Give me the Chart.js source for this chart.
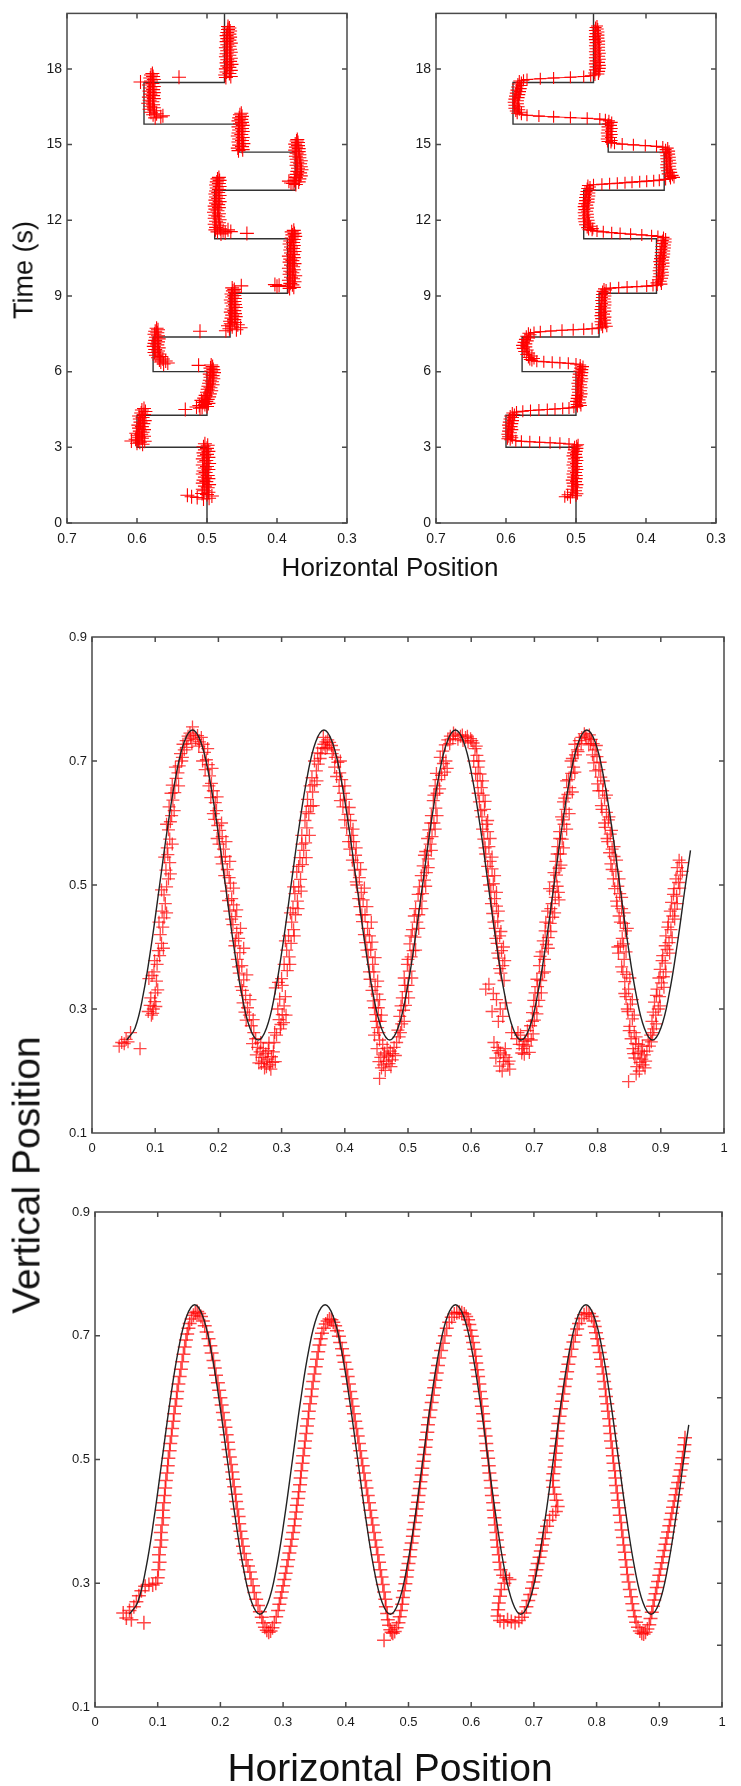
<!DOCTYPE html>
<html><head><meta charset="utf-8">
<script src="https://cdn.jsdelivr.net/npm/chart.js@4/dist/chart.umd.min.js"></script>
<style>
html,body{margin:0;padding:0;background:#fff}
body{width:741px;height:1786px;position:relative;overflow:hidden;font-family:'Liberation Sans',Arial,sans-serif;color:#111}
canvas{position:absolute}
.t{position:absolute;white-space:nowrap;line-height:1;transform:translate(-50%,-50%)}
.r{transform:translate(-50%,-50%) rotate(-90deg)}
</style></head><body>
<canvas id="ca" width="370" height="560" style="left:0;top:0"></canvas>
<canvas id="cb" width="371" height="560" style="left:370px;top:0"></canvas>
<canvas id="cc" width="741" height="580" style="left:0;top:600px"></canvas>
<canvas id="cd" width="741" height="580" style="left:0;top:1180px"></canvas>
<div class="t r" style="left:24px;top:270px;font-size:27px">Time (s)</div>
<div class="t" style="left:390px;top:567px;font-size:26px">Horizontal Position</div>
<div class="t r" style="left:26px;top:1175px;font-size:39px">Vertical Position</div>
<div class="t" style="left:390px;top:1767px;font-size:39px">Horizontal Position</div>
<script>
// ---------- tick values ----------
const topXTicks = [0.7, 0.6, 0.5, 0.4, 0.3];
const topYTicks = [0, 3, 6, 9, 12, 15, 18];
const botXTicks = [0, 0.1, 0.2, 0.3, 0.4, 0.5, 0.6, 0.7, 0.8, 0.9, 1];
const botYTicks = [0.1, 0.3, 0.5, 0.7, 0.9];
const botYMinor = [0.2, 0.3, 0.4, 0.5, 0.6, 0.7, 0.8];

// ---------- target step path (top panels) ----------
const stepStart = [0, 3.0, 4.27, 6.0, 7.37, 9.11, 11.27, 13.19, 14.70, 15.81, 17.46];
const stepEnd   = [3.0, 4.27, 6.0, 7.37, 9.11, 11.27, 13.19, 14.70, 15.81, 17.46, 20.2];
const stepLevel = [0.5, 0.6, 0.5, 0.577, 0.467, 0.385, 0.489, 0.374, 0.454, 0.590, 0.475];

// ---------- panel (a): [time, horizontal position] ----------
const trackA = [
[0.95,.505],[0.98,.497],[1.01,.514],[1.04,.522],[1.07,.493],[1.10,.528],[1.13,.500],[1.17,.507],[1.22,.498],[1.28,.504],[1.34,.506],[1.40,.499],[1.46,.503],[1.52,.497],[1.58,.506],[1.64,.501],[1.70,.505],[1.76,.498],[1.82,.503],[1.88,.499],[1.94,.506],[2.00,.502],[2.06,.505],[2.12,.498],[2.18,.503],[2.24,.500],[2.30,.506],[2.36,.497],[2.42,.504],[2.48,.501],[2.54,.506],[2.60,.498],[2.66,.504],[2.72,.500],[2.78,.505],[2.84,.498],[2.90,.503],[2.96,.500],[3.02,.505],[3.08,.499],[3.14,.503],
[3.12,.592],[3.16,.600],[3.20,.596],[3.24,.589],[3.25,.608],[3.28,.598],[3.32,.602],[3.36,.593],[3.40,.597],[3.44,.590],[3.48,.599],[3.52,.594],[3.56,.601],[3.60,.592],[3.64,.596],[3.70,.590],[3.76,.597],[3.82,.593],[3.88,.598],[3.94,.591],[4.00,.595],[4.06,.589],[4.12,.596],[4.18,.592],[4.24,.597],[4.30,.590],[4.36,.594],[4.42,.588],[4.48,.593],[4.54,.590],
[4.50,.531],[4.55,.510],[4.60,.515],
[4.58,.507],[4.62,.500],[4.66,.511],[4.70,.503],[4.74,.498],[4.78,.506],[4.82,.501],[4.86,.508],[4.90,.499],[4.95,.504],[5.00,.497],[5.06,.502],[5.12,.496],[5.18,.500],[5.24,.494],[5.30,.499],[5.36,.495],[5.42,.498],[5.48,.492],[5.54,.497],[5.60,.493],[5.66,.496],[5.72,.491],[5.78,.495],[5.84,.492],[5.90,.496],[5.96,.490],[6.02,.494],[6.08,.491],[6.14,.495],[6.20,.492],[6.26,.494],[6.25,.512],
[6.30,.562],[6.34,.556],[6.38,.566],[6.42,.559],[6.46,.568],[6.50,.563],[6.55,.570],[6.60,.566],[6.65,.573],[6.70,.568],[6.76,.575],[6.82,.570],[6.88,.574],[6.94,.569],[7.00,.576],[7.06,.571],[7.12,.575],[7.18,.570],[7.24,.574],[7.30,.569],[7.36,.573],[7.42,.570],[7.48,.575],[7.54,.571],[7.60,.574],[7.66,.570],[7.72,.572],[7.60,.510],
[7.62,.473],[7.66,.458],[7.70,.468],[7.74,.452],[7.78,.464],[7.82,.470],[7.86,.456],[7.90,.466],[7.95,.460],[8.00,.467],[8.06,.461],[8.12,.465],[8.18,.459],[8.24,.464],[8.30,.460],[8.36,.466],[8.42,.461],[8.48,.465],[8.54,.459],[8.60,.463],[8.66,.460],[8.72,.465],[8.78,.461],[8.84,.466],[8.90,.460],[8.96,.464],[9.02,.461],[9.08,.465],[9.14,.460],[9.20,.463],[9.26,.461],[9.32,.464],[9.40,.451],
[9.38,.400],[9.42,.397],[9.45,.403],
[9.30,.382],[9.34,.376],[9.38,.384],[9.44,.378],[9.50,.381],[9.56,.375],[9.62,.383],[9.68,.377],[9.74,.380],[9.80,.374],[9.86,.382],[9.92,.378],[9.98,.381],[10.04,.376],[10.10,.383],[10.16,.377],[10.22,.380],[10.28,.375],[10.34,.382],[10.40,.378],[10.46,.381],[10.52,.376],[10.58,.383],[10.64,.377],[10.70,.380],[10.76,.375],[10.82,.381],[10.88,.377],[10.94,.380],[11.00,.376],[11.06,.382],[11.12,.377],[11.18,.381],[11.24,.376],[11.30,.379],[11.36,.374],[11.42,.378],[11.48,.375],[11.54,.379],[11.60,.376],
[11.48,.443],[11.55,.466],[11.62,.470],
[11.46,.480],[11.50,.474],[11.54,.485],[11.58,.477],[11.62,.488],[11.66,.481],[11.72,.487],[11.78,.482],[11.84,.489],[11.90,.483],[11.96,.487],[12.02,.482],[12.08,.489],[12.14,.484],[12.20,.488],[12.26,.483],[12.32,.490],[12.38,.485],[12.44,.488],[12.50,.483],[12.56,.489],[12.62,.484],[12.68,.487],[12.74,.482],[12.80,.488],[12.86,.484],[12.92,.487],[12.98,.482],[13.04,.488],[13.10,.484],[13.16,.487],[13.22,.483],[13.28,.486],[13.34,.482],[13.40,.487],[13.46,.483],[13.52,.486],[13.58,.482],[13.64,.485],[13.70,.483],
[13.48,.380],[13.55,.383],
[13.42,.373],[13.46,.377],[13.52,.369],[13.58,.375],[13.64,.368],[13.70,.373],[13.76,.366],[13.82,.372],[13.88,.367],[13.94,.371],[14.00,.365],[14.06,.370],[14.12,.366],[14.18,.372],[14.24,.367],[14.30,.371],[14.36,.366],[14.42,.372],[14.48,.368],[14.54,.373],[14.60,.368],[14.66,.372],[14.72,.369],[14.78,.374],[14.84,.369],[14.90,.373],[14.96,.370],[15.02,.374],[15.08,.370],[15.14,.372],[15.20,.371],
[14.76,.455],[14.80,.449],[14.86,.456],[14.92,.450],[14.98,.454],[15.04,.448],[15.10,.455],[15.16,.450],[15.22,.454],[15.28,.449],[15.34,.456],[15.40,.451],[15.46,.455],[15.52,.449],[15.58,.454],[15.64,.450],[15.70,.455],[15.76,.449],[15.82,.453],[15.88,.450],[15.94,.455],[16.00,.451],[16.06,.454],[16.12,.450],[16.18,.453],[16.24,.451],
[16.06,.574],[16.10,.566],[16.14,.563],[16.18,.577],[16.22,.572],[16.28,.580],[16.34,.575],[16.40,.582],[16.46,.576],[16.52,.581],[16.58,.577],[16.64,.584],[16.70,.578],[16.76,.582],[16.82,.576],[16.88,.583],[16.94,.577],[17.00,.581],[17.06,.576],[17.12,.582],[17.18,.577],[17.24,.581],[17.30,.576],[17.36,.583],[17.42,.578],[17.48,.595],[17.52,.580],[17.58,.576],[17.64,.581],[17.70,.577],[17.76,.580],[17.82,.578],[17.67,.540],
[17.66,.473],[17.70,.466],[17.76,.474],[17.82,.468],[17.88,.472],[17.94,.466],[18.00,.473],[18.06,.468],[18.12,.471],[18.18,.465],[18.24,.472],[18.30,.467],[18.36,.471],[18.42,.466],[18.48,.473],[18.54,.468],[18.60,.472],[18.66,.466],[18.72,.471],[18.78,.467],[18.84,.473],[18.90,.468],[18.96,.471],[19.02,.466],[19.08,.472],[19.14,.468],[19.20,.471],[19.26,.467],[19.32,.472],[19.38,.468],[19.44,.471],[19.50,.467],[19.56,.470],[19.62,.468],[19.68,.470]
];

// ---------- panel (b): [time, horizontal position], in time order ----------
const trackB = [
[1.00,.508],[1.04,.516],[1.08,.500],[1.12,.512],[1.16,.498],[1.22,.505],[1.28,.500],[1.34,.506],[1.40,.499],[1.46,.504],[1.52,.498],[1.58,.505],[1.64,.500],[1.70,.506],[1.76,.499],[1.82,.504],[1.88,.499],[1.94,.505],[2.00,.500],[2.06,.504],[2.12,.498],[2.18,.503],[2.24,.499],[2.30,.505],[2.36,.500],[2.42,.504],[2.48,.498],[2.54,.503],[2.60,.499],[2.66,.505],[2.72,.500],[2.78,.504],[2.84,.499],[2.90,.503],[2.96,.498],[3.02,.502],[3.06,.499],
[3.10,.497],[3.13,.510],[3.16,.523],[3.18,.537],[3.20,.552],[3.22,.566],[3.24,.578],[3.26,.586],
[3.30,.594],[3.34,.598],[3.38,.591],[3.42,.597],[3.46,.592],[3.52,.598],[3.58,.593],[3.64,.597],[3.70,.591],[3.76,.596],[3.82,.592],[3.88,.597],[3.94,.591],[4.00,.596],[4.06,.590],[4.12,.595],[4.18,.590],[4.24,.594],[4.30,.588],[4.36,.591],[4.40,.585],
[4.43,.576],[4.46,.565],[4.48,.553],[4.50,.541],[4.52,.530],[4.54,.519],[4.56,.510],[4.59,.503],
[4.62,.498],[4.66,.493],[4.70,.499],[4.76,.494],[4.82,.500],[4.88,.495],[4.94,.499],[5.00,.493],[5.06,.498],[5.12,.492],[5.18,.497],[5.24,.493],[5.30,.498],[5.36,.492],[5.42,.497],[5.48,.493],[5.54,.498],[5.60,.492],[5.66,.496],[5.72,.491],[5.78,.497],[5.84,.492],[5.90,.496],[5.96,.491],[6.02,.495],[6.08,.491],[6.14,.494],[6.20,.490],[6.26,.494],
[6.30,.500],[6.33,.511],[6.35,.523],[6.37,.534],[6.39,.546],[6.41,.556],[6.44,.563],
[6.48,.566],[6.52,.560],[6.56,.568],[6.62,.563],[6.68,.571],[6.74,.567],[6.80,.574],[6.86,.569],[6.92,.576],[6.98,.571],[7.04,.577],[7.10,.571],[7.16,.575],[7.22,.569],[7.28,.573],[7.34,.567],[7.40,.571],[7.46,.565],[7.52,.568],
[7.55,.560],[7.58,.551],[7.61,.536],[7.64,.520],[7.66,.504],[7.68,.489],[7.70,.477],[7.73,.468],
[7.76,.462],[7.80,.456],[7.86,.464],[7.92,.458],[7.98,.465],[8.04,.459],[8.10,.464],[8.16,.458],[8.22,.465],[8.28,.460],[8.34,.464],[8.40,.458],[8.46,.465],[8.52,.459],[8.58,.464],[8.64,.458],[8.70,.463],[8.76,.458],[8.82,.464],[8.88,.459],[8.94,.463],[9.00,.458],[9.06,.463],[9.12,.459],[9.18,.462],[9.24,.457],[9.28,.460],
[9.31,.451],[9.33,.439],[9.35,.427],[9.37,.413],[9.39,.399],[9.41,.390],
[9.43,.384],[9.47,.378],[9.52,.385],[9.58,.379],[9.64,.383],[9.70,.377],[9.76,.382],[9.82,.376],[9.88,.381],[9.94,.376],[10.00,.382],[10.06,.377],[10.12,.381],[10.18,.375],[10.24,.380],[10.30,.375],[10.36,.381],[10.42,.376],[10.48,.380],[10.54,.375],[10.60,.379],[10.66,.374],[10.72,.379],[10.78,.374],[10.84,.378],[10.90,.373],[10.96,.378],[11.02,.373],[11.08,.377],[11.14,.372],[11.20,.376],[11.26,.372],[11.32,.375],
[11.36,.383],[11.39,.392],[11.42,.406],[11.45,.422],[11.48,.437],[11.51,.449],[11.54,.461],[11.57,.470],[11.60,.477],
[11.63,.482],[11.67,.476],[11.71,.484],[11.76,.479],[11.82,.487],[11.88,.481],[11.94,.488],[12.00,.482],[12.06,.489],[12.12,.483],[12.18,.488],[12.24,.483],[12.30,.489],[12.36,.484],[12.42,.488],[12.48,.483],[12.54,.489],[12.60,.484],[12.66,.488],[12.72,.482],[12.78,.487],[12.84,.482],[12.90,.487],[12.96,.481],[13.02,.486],[13.08,.481],[13.14,.485],[13.20,.480],[13.26,.484],[13.32,.480],[13.38,.483],
[13.41,.475],[13.43,.463],[13.45,.452],[13.47,.441],[13.49,.430],[13.51,.420],[13.53,.409],[13.55,.399],[13.57,.389],[13.59,.381],
[13.62,.372],[13.66,.365],[13.70,.360],[13.74,.366],[13.78,.362],[13.84,.369],[13.90,.364],[13.96,.370],[14.02,.365],[14.08,.371],[14.14,.366],[14.20,.371],[14.26,.365],[14.32,.370],[14.38,.366],[14.44,.371],[14.50,.366],[14.56,.371],[14.62,.367],[14.68,.372],[14.74,.367],[14.80,.372],[14.86,.369],
[14.90,.376],[14.93,.385],[14.96,.401],[14.99,.418],[15.02,.434],[15.05,.445],[15.08,.450],
[15.12,.455],[15.16,.449],[15.22,.456],[15.28,.450],[15.34,.455],[15.40,.449],[15.46,.456],[15.52,.450],[15.58,.455],[15.64,.449],[15.70,.455],[15.76,.450],[15.82,.454],[15.88,.449],[15.94,.453],
[15.98,.458],[16.01,.466],[16.04,.484],[16.07,.508],[16.10,.532],[16.13,.553],[16.16,.570],[16.20,.578],
[16.24,.584],[16.28,.578],[16.33,.586],[16.38,.581],[16.44,.588],[16.50,.582],[16.56,.588],[16.62,.583],[16.68,.589],[16.74,.583],[16.80,.588],[16.86,.582],[16.92,.587],[16.98,.581],[17.04,.586],[17.10,.580],[17.16,.585],[17.22,.579],[17.28,.584],[17.34,.578],[17.40,.583],[17.46,.578],[17.52,.581],
[17.55,.575],[17.58,.570],[17.61,.551],[17.64,.532],[17.67,.508],[17.70,.489],[17.73,.479],[17.76,.473],
[17.80,.468],[17.84,.474],[17.90,.467],[17.96,.473],[18.02,.466],[18.08,.472],[18.14,.466],[18.20,.473],[18.26,.467],[18.32,.472],[18.38,.466],[18.44,.473],[18.50,.467],[18.56,.472],[18.62,.466],[18.68,.473],[18.74,.467],[18.80,.472],[18.86,.467],[18.92,.473],[18.98,.467],[19.04,.472],[19.10,.467],[19.16,.473],[19.22,.468],[19.28,.473],[19.34,.468],[19.40,.472],[19.46,.468],[19.52,.473],[19.58,.469],[19.64,.472],[19.70,.470]
];

// ---------- target wave (bottom panels): [horizontal, vertical] ----------
const modelWave = [
[.055,.25],[.068,.269],[.081,.323],[.094,.404],[.107,.5],[.120,.596],[.133,.677],[.146,.731],[.159,.75],[.172,.731],[.185,.677],[.198,.596],[.211,.5],[.224,.404],[.237,.323],[.250,.269],[.263,.25],
[.276,.269],[.289,.323],[.302,.404],[.315,.5],[.328,.596],[.341,.677],[.354,.731],[.367,.75],[.380,.731],[.393,.677],[.406,.596],[.419,.5],[.432,.404],[.445,.323],[.458,.269],[.471,.25],
[.484,.269],[.497,.323],[.510,.404],[.523,.5],[.536,.596],[.549,.677],[.562,.731],[.575,.75],[.588,.731],[.601,.677],[.614,.596],[.627,.5],[.640,.404],[.653,.323],[.666,.269],[.679,.25],
[.692,.269],[.705,.323],[.718,.404],[.731,.5],[.744,.596],[.757,.677],[.770,.731],[.783,.75],[.796,.731],[.809,.677],[.822,.596],[.835,.5],[.848,.404],[.861,.323],[.874,.269],[.887,.25],
[.900,.269],[.913,.323],[.926,.404],[.939,.5],[.947,.556]
];

// ---------- panel (c) measured points ----------
const trialC = [
[.043,.240],[.047,.246],[.051,.244],[.054,.251],[.057,.247],[.061,.262],[.076,.236],
[.089,.296],[.092,.306],[.094,.290],[.097,.300],[.099,.312],[.096,.293],[.101,.304],[.090,.349],[.095,.354],[.098,.360],[.100,.326],[.104,.331],[.103,.372],[.107,.386],[.105,.394],[.110,.406],[.108,.420],[.112,.432],[.114,.447],[.111,.458],[.116,.470],[.114,.484],[.118,.497],[.121,.510],[.117,.524],[.123,.536],[.120,.549],[.119,.560],[.123,.574],[.121,.589],[.124,.602],[.126,.612],[.122,.626],[.128,.637],[.131,.649],[.127,.661],[.133,.672],[.136,.681],[.138,.692],[.142,.700],[.140,.712],[.146,.718],[.144,.727],[.149,.733],[.152,.740],[.156,.737],[.159,.755],[.161,.742],[.158,.728],[.164,.735],[.167,.741],[.170,.731],[.173,.738],[.169,.724],[.176,.727],
[.093,.318],[.102,.345],[.099,.378],[.113,.398],[.106,.440],[.118,.455],[.110,.492],[.124,.518],[.115,.545],[.127,.566],[.118,.598],[.130,.620],[.125,.648],[.137,.660],[.132,.690],[.143,.706],[.150,.722],[.155,.745],
[.178,.714],[.181,.702],[.184,.694],[.179,.686],[.186,.676],[.189,.664],[.192,.652],[.188,.641],[.195,.633],[.197,.620],[.194,.606],[.199,.596],[.202,.588],[.206,.578],[.201,.566],[.208,.558],[.211,.546],[.206,.534],[.214,.525],[.217,.512],[.219,.503],[.213,.490],[.221,.478],[.224,.468],[.218,.458],[.227,.449],[.223,.436],[.229,.423],[.232,.414],[.226,.402],[.234,.391],[.230,.380],[.237,.370],[.233,.358],[.240,.347],[.236,.336],[.243,.322],[.239,.310],[.246,.302],[.249,.290],[.244,.282],
[.183,.720],[.175,.700],[.190,.688],[.185,.660],[.198,.642],[.192,.615],[.205,.600],[.198,.575],[.212,.570],[.204,.545],[.218,.538],[.210,.515],[.224,.495],[.216,.475],[.229,.460],[.221,.445],[.235,.430],[.227,.410],[.240,.398],[.232,.368],[.245,.355],[.238,.330],[.250,.315],[.242,.295],[.255,.283],
[.252,.273],[.256,.262],[.259,.252],[.254,.244],[.262,.238],[.266,.231],[.260,.226],[.269,.222],[.272,.216],[.264,.213],[.275,.228],[.278,.219],[.281,.210],[.284,.223],[.276,.207],[.287,.231],[.283,.203],[.290,.215],[.271,.236],[.280,.245],[.288,.246],
[.267,.246],[.273,.205],[.286,.214],[.279,.233],[.268,.212],
[.292,.258],[.298,.268],[.303,.278],[.296,.283],[.301,.291],[.307,.290],[.294,.300],[.289,.262],[.304,.305],[.297,.316],[.290,.334],[.295,.343],[.300,.349],[.309,.362],[.304,.372],[.312,.384],[.308,.395],[.315,.406],[.311,.418],[.319,.428],[.316,.440],[.322,.452],[.318,.463],[.325,.474],[.321,.486],[.327,.497],[.330,.509],[.324,.521],[.333,.533],[.329,.544],[.335,.556],[.338,.568],[.332,.580],[.340,.592],[.337,.604],[.343,.615],[.346,.627],[.341,.638],[.349,.650],[.352,.662],[.348,.673],[.355,.684],[.358,.695],[.361,.704],[.357,.713],[.364,.721],[.367,.727],[.370,.731],[.373,.734],[.369,.720],[.376,.730],[.379,.725],[.382,.718],
[.299,.275],[.306,.320],[.301,.338],[.313,.372],[.306,.410],[.320,.418],[.314,.455],[.326,.462],[.319,.497],[.331,.490],[.327,.530],[.339,.544],[.332,.566],[.344,.580],[.339,.618],[.350,.628],[.345,.660],[.356,.668],[.352,.700],[.362,.712],[.366,.738],[.372,.722],
[.385,.706],[.389,.698],[.384,.690],[.392,.681],[.395,.670],[.391,.659],[.398,.648],[.402,.638],[.397,.626],[.405,.614],[.409,.604],[.403,.592],[.411,.580],[.414,.570],[.408,.558],[.417,.548],[.420,.536],[.415,.524],[.423,.512],[.419,.500],[.426,.488],[.429,.476],[.424,.465],[.432,.452],[.428,.441],[.436,.430],[.439,.418],[.433,.407],[.441,.396],[.437,.384],[.444,.372],[.446,.360],[.440,.348],[.448,.336],[.451,.324],[.445,.313],[.453,.302],[.449,.291],[.456,.280],[.452,.270],
[.380,.712],[.393,.700],[.387,.675],[.400,.660],[.393,.636],[.407,.625],[.400,.605],[.413,.590],[.406,.570],[.418,.560],[.412,.540],[.425,.525],[.418,.505],[.431,.495],[.422,.478],[.435,.465],[.427,.452],[.442,.440],[.431,.420],[.443,.408],[.435,.395],[.448,.383],[.439,.360],[.452,.345],[.443,.330],[.455,.315],[.447,.302],[.458,.290],[.450,.280],[.454,.262],
[.447,.258],[.455,.250],[.460,.243],[.451,.236],[.463,.229],[.457,.222],[.466,.216],[.461,.210],[.469,.224],[.472,.232],[.458,.205],[.475,.218],[.478,.238],[.455,.188],[.464,.201],[.482,.246],[.470,.212],[.486,.255],[.476,.228],
[.462,.226],[.467,.237],[.454,.215],[.473,.207],[.480,.225],
[.484,.266],[.490,.276],[.487,.288],[.493,.298],[.496,.306],[.491,.318],[.497,.328],[.500,.338],[.494,.350],[.502,.361],[.499,.372],[.505,.384],[.508,.394],[.503,.405],[.511,.416],[.507,.428],[.514,.440],[.517,.452],[.512,.462],[.520,.474],[.523,.486],[.518,.497],[.526,.508],[.529,.520],[.524,.531],[.532,.542],[.528,.554],[.535,.566],[.538,.578],[.533,.589],[.541,.600],[.537,.612],[.544,.624],[.540,.636],[.546,.648],[.543,.660],[.549,.670],[.553,.677],[.558,.682],[.562,.688],[.556,.696],[.551,.706],[.555,.716],[.559,.726],[.563,.734],[.567,.740],[.571,.736],[.575,.742],[.579,.735],[.583,.740],[.587,.733],[.591,.738],[.595,.731],[.599,.736],[.603,.729],
[.488,.262],[.494,.280],[.489,.305],[.501,.318],[.495,.338],[.506,.350],[.500,.380],[.512,.395],[.505,.418],[.517,.430],[.510,.450],[.522,.462],[.516,.485],[.528,.498],[.521,.515],[.532,.528],[.526,.548],[.537,.556],[.531,.575],[.543,.590],[.536,.600],[.546,.612],[.541,.645],[.550,.655],[.545,.680],[.560,.700],[.566,.728],[.572,.745],[.586,.742],[.594,.740],[.601,.733],
[.606,.720],[.609,.709],[.604,.700],[.611,.690],[.614,.679],[.610,.668],[.616,.657],[.619,.645],[.613,.634],[.621,.622],[.617,.610],[.624,.598],[.626,.586],[.620,.574],[.628,.562],[.623,.550],[.630,.538],[.633,.526],[.627,.514],[.635,.502],[.631,.490],[.637,.478],[.640,.466],[.634,.454],[.642,.442],[.638,.430],[.645,.418],[.641,.406],[.648,.394],[.644,.382],[.650,.370],[.647,.358],[.628,.340],[.623,.332],[.635,.325],[.652,.346],[.640,.315],[.646,.300],[.654,.310],[.633,.296],[.650,.288],[.643,.280],
[.608,.724],[.612,.700],[.607,.680],[.618,.668],[.611,.648],[.622,.635],[.615,.620],[.626,.604],[.618,.590],[.630,.575],[.622,.560],[.633,.545],[.626,.530],[.637,.515],[.629,.500],[.640,.488],[.632,.470],[.643,.458],[.636,.440],[.647,.425],[.639,.414],[.651,.400],[.642,.390],[.653,.378],[.645,.365],
[.636,.246],[.641,.238],[.646,.229],[.639,.221],[.651,.215],[.645,.208],[.655,.222],[.658,.211],[.649,.200],[.661,.203],[.654,.236],[.664,.262],[.672,.252],[.676,.243],[.681,.236],[.685,.248],[.678,.258],[.688,.240],[.692,.230],[.684,.227],[.695,.250],[.689,.265],[.698,.260],
[.643,.233],[.652,.226],[.660,.216],[.683,.242],[.690,.252],[.680,.229],[.674,.262],
[.694,.273],[.700,.282],[.697,.294],[.703,.304],[.707,.314],[.701,.326],[.705,.336],[.710,.346],[.713,.358],[.708,.370],[.716,.380],[.712,.392],[.719,.404],[.722,.415],[.717,.426],[.725,.438],[.729,.448],[.721,.458],[.728,.470],[.733,.480],[.738,.488],[.724,.494],[.731,.505],[.735,.516],[.739,.527],[.734,.538],[.741,.550],[.737,.562],[.744,.574],[.740,.586],[.747,.598],[.743,.610],[.750,.622],[.746,.634],[.753,.646],[.756,.657],[.751,.668],[.759,.680],[.762,.690],[.758,.700],[.765,.710],[.768,.718],[.764,.727],[.771,.733],[.775,.738],[.779,.744],[.783,.737],[.787,.742],[.790,.735],[.786,.726],[.793,.728],
[.697,.280],[.704,.292],[.699,.314],[.711,.326],[.704,.348],[.716,.360],[.709,.385],[.722,.398],[.714,.410],[.726,.425],[.718,.440],[.732,.455],[.726,.462],[.739,.476],[.729,.490],[.736,.498],[.731,.520],[.742,.532],[.736,.550],[.746,.560],[.740,.575],[.751,.590],[.745,.605],[.755,.615],[.748,.640],[.760,.650],[.754,.670],[.764,.682],[.760,.704],[.769,.715],[.774,.728],[.781,.740],[.789,.728],
[.796,.718],[.799,.707],[.794,.697],[.802,.686],[.805,.674],[.800,.663],[.808,.652],[.811,.640],[.806,.628],[.814,.617],[.817,.605],[.812,.593],[.820,.582],[.816,.570],[.823,.558],[.826,.546],[.821,.534],[.829,.522],[.825,.510],[.832,.498],[.835,.486],[.830,.474],[.838,.462],[.834,.450],[.841,.438],[.844,.426],[.839,.414],[.836,.402],[.833,.390],[.842,.380],[.838,.368],[.846,.356],[.843,.344],[.849,.332],[.845,.320],[.852,.308],[.848,.296],[.855,.284],[.851,.272],[.858,.262],
[.798,.725],[.792,.710],[.804,.698],[.797,.684],[.809,.668],[.802,.652],[.814,.645],[.807,.622],[.818,.610],[.811,.600],[.822,.588],[.815,.575],[.826,.562],[.819,.552],[.830,.540],[.823,.525],[.834,.510],[.827,.494],[.838,.480],[.831,.466],[.842,.455],[.836,.440],[.847,.430],[.841,.405],[.832,.400],[.845,.392],[.840,.360],[.851,.350],[.843,.325],[.855,.315],[.847,.300],[.858,.290],[.850,.265],[.861,.255],
[.853,.252],[.860,.244],[.856,.236],[.864,.229],[.859,.221],[.867,.214],[.862,.207],[.870,.219],[.874,.226],[.866,.200],[.878,.232],[.849,.183],[.872,.210],[.882,.240],[.876,.216],[.885,.247],
[.865,.243],[.857,.228],[.869,.232],[.861,.195],[.875,.205],[.880,.250],[.871,.240],
[.884,.258],[.889,.268],[.886,.280],[.892,.290],[.896,.300],[.890,.311],[.898,.320],[.894,.332],[.901,.342],[.904,.352],[.899,.364],[.907,.374],[.903,.386],[.910,.396],[.913,.407],[.908,.418],[.916,.428],[.912,.440],[.919,.450],[.922,.461],[.917,.472],[.925,.482],[.921,.494],[.928,.504],[.931,.516],[.926,.528],[.933,.536],
[.887,.262],[.893,.276],[.888,.295],[.899,.305],[.893,.322],[.905,.335],[.897,.350],[.908,.360],[.902,.378],[.914,.390],[.907,.402],[.918,.415],[.911,.432],[.922,.445],[.915,.458],[.926,.470],[.920,.485],[.930,.495],[.924,.510],[.934,.522],[.929,.540]
];

// ---------- panel (d) measured points ----------
const trialD = [
[.045,.252],[.050,.244],[.055,.256],[.058,.241],[.062,.262],[.066,.270],[.078,.236],[.070,.280],[.074,.288],[.080,.295],[.086,.298],[.092,.297],[.097,.300],[.100,.309],[.101,.322],[.103,.334],[.102,.346],[.104,.358],[.106,.370],[.105,.382],[.107,.394],[.109,.406],[.108,.418],[.110,.430],[.111,.442],[.112,.454],[.113,.466],[.115,.478],[.116,.490],[.117,.502],[.119,.514],[.120,.526],[.122,.538],[.123,.550],[.125,.562],[.126,.574],[.128,.586],[.130,.598],[.131,.610],[.133,.622],[.135,.634],[.137,.646],[.139,.658],[.141,.670],[.143,.682],[.145,.693],[.147,.703],[.149,.712],[.151,.720],[.154,.727],[.157,.733],[.160,.737],[.163,.739],[.166,.736],[.169,.731],[.172,.724],
[.175,.716],[.178,.706],[.181,.695],[.184,.684],[.186,.672],[.189,.660],[.191,.648],[.193,.636],[.196,.624],[.198,.612],[.200,.600],[.202,.588],[.204,.576],[.206,.564],[.208,.552],[.210,.540],[.212,.528],[.213,.516],[.215,.504],[.217,.492],[.219,.480],[.220,.468],[.222,.456],[.224,.444],[.225,.432],[.227,.420],[.229,.408],[.230,.396],[.232,.384],[.234,.372],[.236,.360],[.238,.348],[.241,.338],[.244,.328],[.247,.318],[.249,.307],[.252,.296],[.254,.285],[.257,.274],[.260,.264],[.263,.254],[.266,.245],[.268,.236],[.271,.229],[.274,.224],[.277,.221],[.280,.223],[.283,.228],[.286,.236],
[.289,.246],[.292,.256],[.294,.266],[.296,.276],[.298,.286],[.300,.296],[.302,.306],[.304,.316],[.306,.327],[.308,.338],[.310,.349],[.312,.360],[.314,.371],[.316,.382],[.318,.393],[.319,.404],[.321,.415],[.322,.426],[.324,.437],[.325,.448],[.327,.459],[.328,.470],[.329,.482],[.331,.494],[.332,.506],[.334,.518],[.335,.530],[.337,.542],[.338,.554],[.340,.566],[.341,.578],[.343,.590],[.345,.602],[.346,.614],[.348,.626],[.350,.638],[.352,.650],[.354,.662],[.356,.674],[.358,.685],[.360,.695],[.362,.704],[.365,.712],[.368,.719],[.371,.724],[.374,.727],[.377,.726],[.380,.722],
[.383,.716],[.386,.708],[.389,.699],[.391,.689],[.394,.679],[.396,.668],[.398,.657],[.401,.646],[.403,.634],[.405,.622],[.407,.610],[.409,.598],[.411,.586],[.413,.574],[.415,.562],[.417,.550],[.419,.538],[.421,.526],[.423,.514],[.425,.502],[.427,.490],[.429,.478],[.431,.466],[.433,.454],[.435,.442],[.437,.430],[.439,.418],[.441,.406],[.443,.394],[.445,.382],[.447,.370],[.449,.358],[.451,.346],[.453,.334],[.455,.322],[.457,.310],[.459,.298],[.461,.286],[.463,.274],[.464,.262],[.466,.251],[.467,.241],[.469,.232],[.471,.225],[.473,.221],[.461,.208],[.475,.219],[.478,.222],[.481,.228],
[.484,.236],[.486,.246],[.488,.256],[.490,.266],[.491,.277],[.493,.288],[.495,.299],[.497,.310],[.498,.321],[.500,.332],[.502,.343],[.503,.354],[.505,.365],[.507,.376],[.508,.387],[.510,.398],[.512,.409],[.513,.420],[.515,.431],[.516,.442],[.518,.453],[.519,.464],[.521,.475],[.522,.486],[.524,.497],[.525,.508],[.527,.520],[.528,.532],[.530,.544],[.531,.556],[.533,.568],[.535,.580],[.537,.592],[.539,.604],[.541,.616],[.543,.628],[.545,.640],[.547,.652],[.549,.664],[.552,.676],[.555,.688],[.558,.700],[.561,.712],[.565,.722],[.569,.730],[.573,.735],[.577,.737],[.581,.738],[.585,.737],[.589,.735],[.592,.731],
[.595,.726],[.597,.718],[.599,.709],[.601,.699],[.603,.689],[.605,.678],[.607,.667],[.608,.656],[.610,.645],[.611,.634],[.613,.622],[.614,.610],[.616,.598],[.617,.586],[.619,.574],[.620,.562],[.621,.550],[.623,.538],[.624,.526],[.625,.514],[.627,.502],[.628,.490],[.629,.478],[.631,.466],[.632,.454],[.633,.442],[.635,.430],[.636,.418],[.637,.406],[.638,.394],[.640,.382],[.641,.370],[.642,.358],[.644,.346],[.645,.334],[.647,.322],[.651,.313],[.656,.309],[.661,.306],[.653,.300],[.648,.290],[.646,.279],[.644,.268],[.643,.257],[.642,.247],[.646,.240],[.652,.237],[.658,.241],[.664,.238],[.670,.236],[.676,.240],[.681,.245],
[.685,.252],[.688,.262],[.691,.272],[.694,.282],[.697,.292],[.699,.302],[.702,.312],[.704,.322],[.706,.332],[.709,.342],[.711,.352],[.713,.362],[.715,.372],[.718,.382],[.721,.392],[.725,.402],[.730,.410],[.735,.416],[.738,.424],[.736,.434],[.733,.444],[.731,.455],[.730,.466],[.731,.477],[.733,.488],[.734,.499],[.735,.510],[.736,.522],[.737,.534],[.738,.546],[.739,.558],[.741,.570],[.743,.582],[.745,.594],[.747,.606],[.749,.618],[.751,.630],[.753,.642],[.755,.654],[.757,.666],[.760,.678],[.763,.690],[.766,.701],[.769,.711],[.772,.720],[.776,.728],[.780,.734],[.784,.737],[.788,.736],[.792,.731],
[.795,.724],[.797,.715],[.799,.705],[.801,.695],[.803,.684],[.805,.673],[.807,.662],[.809,.650],[.811,.638],[.812,.626],[.814,.614],[.815,.602],[.817,.590],[.818,.578],[.820,.566],[.821,.554],[.822,.542],[.823,.530],[.825,.518],[.826,.506],[.827,.494],[.829,.482],[.830,.470],[.831,.458],[.833,.446],[.834,.434],[.836,.422],[.837,.410],[.839,.398],[.840,.386],[.842,.374],[.843,.362],[.845,.350],[.846,.338],[.848,.326],[.849,.314],[.851,.302],[.853,.290],[.855,.278],[.857,.267],[.859,.256],[.861,.246],[.863,.237],[.866,.229],[.869,.223],[.872,.219],[.875,.218],[.878,.221],[.881,.226],
[.884,.233],[.886,.243],[.888,.253],[.890,.263],[.892,.273],[.894,.283],[.896,.293],[.898,.303],[.900,.313],[.902,.323],[.904,.333],[.906,.343],[.908,.353],[.910,.363],[.912,.373],[.914,.383],[.916,.393],[.918,.403],[.920,.413],[.922,.423],[.924,.433],[.926,.443],[.928,.453],[.930,.463],[.932,.473],[.934,.483],[.936,.493],[.937,.503],[.939,.513],[.940,.524],[.941,.535]
];

// ---------- drawing ----------
const FONT = "'Liberation Sans', Arial, sans-serif";
const frame = {
  id: 'frame',
  afterDraw(chart, args, o) {
    const {ctx, chartArea: a, scales} = chart;
    ctx.save();
    ctx.strokeStyle = '#4a4a4a';
    ctx.lineWidth = 1.5;
    ctx.strokeRect(a.left, a.top, a.right - a.left, a.bottom - a.top);
    const L = 5;
    ctx.beginPath();
    o.xTicks.forEach(v => {
      const p = scales.x.getPixelForValue(v);
      ctx.moveTo(p, a.bottom); ctx.lineTo(p, a.bottom - L);
      ctx.moveTo(p, a.top); ctx.lineTo(p, a.top + L);
    });
    o.yLeft.forEach(v => {
      const p = scales.y.getPixelForValue(v);
      ctx.moveTo(a.left, p); ctx.lineTo(a.left + L, p);
    });
    o.yRight.forEach(v => {
      const p = scales.y.getPixelForValue(v);
      ctx.moveTo(a.right, p); ctx.lineTo(a.right - L, p);
    });
    ctx.stroke();
    ctx.restore();
  }
};

function axis(o) {
  return {
    type: 'linear', min: o.min, max: o.max, reverse: !!o.reverse,
    grid: {display: false, drawTicks: false},
    border: {display: false},
    ticks: {padding: o.pad, autoSkip: false, maxRotation: 0, color: '#1a1a1a',
      font: {family: FONT, size: o.size}, callback: o.fmt},
    afterBuildTicks: s => { s.ticks = o.ticks.map(v => ({value: v})); },
    afterFit: s => { if (o.w !== undefined) s.width = o.w; else s.height = o.h; }
  };
}

function baseOptions(pad, x, y, fr) {
  return {
    responsive: false, animation: false, events: [],
    layout: {padding: pad},
    plugins: {legend: {display: false}, tooltip: {enabled: false}, frame: fr},
    scales: {x: axis(x), y: axis(y)}
  };
}

const stepPath = [];
stepLevel.forEach((lv, i) => {
  stepPath.push({x: lv, y: stepStart[i]});
  stepPath.push({x: lv, y: stepEnd[i]});
});

const fmt1 = v => v.toFixed(1);
const fmtInt = v => String(v);
const fmtBotX = v => (v === 0 ? '0' : v === 1 ? '1' : v.toFixed(1));

function topChart(id, ptsDataset, yW, rightPad) {
  new Chart(document.getElementById(id), {
    type: 'scatter',
    data: {datasets: [ptsDataset, {
      data: stepPath, showLine: true, borderColor: '#333', borderWidth: 1.4,
      pointRadius: 0, tension: 0, fill: false
    }]},
    options: baseOptions({left: 0, top: 10, right: rightPad, bottom: 0},
      {min: 0.3, max: 0.7, reverse: true, ticks: topXTicks, pad: 8, size: 14, fmt: fmt1, h: 37},
      {min: 0, max: 20.2, ticks: topYTicks, pad: 5, size: 14, fmt: fmtInt, w: yW},
      {xTicks: topXTicks, yLeft: topYTicks, yRight: topYTicks}),
    plugins: [frame]
  });
}

topChart('ca', {
  data: trackA.map(p => ({x: p[1], y: p[0]})), showLine: false,
  pointStyle: 'cross', pointRadius: 7, pointBorderColor: '#ff0000', pointBorderWidth: 1.1
}, 67, 23);

topChart('cb', {
  data: trackB.map(p => ({x: p[1], y: p[0]})), showLine: true,
  borderColor: '#ff2020', borderWidth: 1, tension: 0,
  pointStyle: 'cross', pointRadius: 6, pointBorderColor: '#ff0000', pointBorderWidth: 1.1
}, 66, 25);

function bottomChart(id, pts, padTop, yW, xH, rightPad, yRight, r, bw) {
  new Chart(document.getElementById(id), {
    type: 'scatter',
    data: {datasets: [{
      data: modelWave.map(p => ({x: p[0], y: p[1]})), showLine: true,
      borderColor: '#222', borderWidth: 1.4, pointRadius: 0, tension: 0.4, fill: false
    }, {
      data: pts.map(p => ({x: p[0], y: p[1]})), showLine: false,
      pointStyle: 'cross', pointRadius: r, pointBorderColor: 'rgba(255,0,0,0.72)', pointBorderWidth: bw
    }]},
    options: baseOptions({left: 0, top: padTop, right: rightPad, bottom: 0},
      {min: 0, max: 1, ticks: botXTicks, pad: 8, size: 13, fmt: fmtBotX, h: xH},
      {min: 0.1, max: 0.9, ticks: botYTicks, pad: 5, size: 13, fmt: fmt1, w: yW},
      {xTicks: botXTicks, yLeft: [0.3, 0.5, 0.7], yRight: yRight}),
    plugins: [frame]
  });
}

bottomChart('cc', trialC, 37, 92, 47, 17, [0.3, 0.5, 0.7], 6.5, 1.3);
bottomChart('cd', trialD, 32, 95, 53, 19, botYMinor, 7, 1.5);
</script>
</body></html>
